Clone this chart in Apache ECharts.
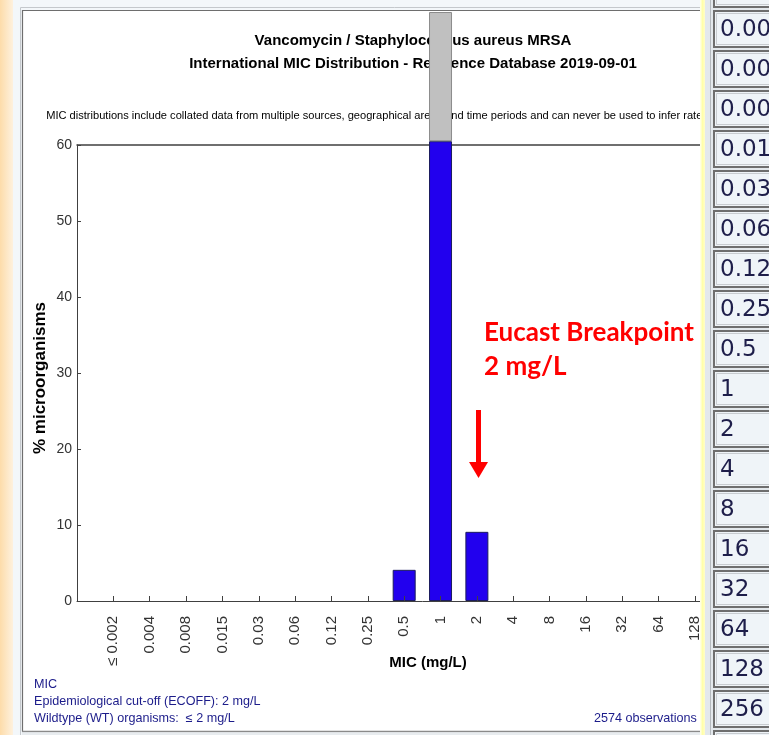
<!DOCTYPE html>
<html><head><meta charset="utf-8">
<script src="https://cdn.jsdelivr.net/npm/echarts@6/dist/echarts.min.js"></script>
<style>html,body{margin:0;padding:0;background:#f3f7fa;overflow:hidden}#c{width:769px;height:735px;}</style>
</head><body><div id="c"></div>
<script>
// ---- data ----
const categories = ["", "≤ 0.002", "0.004", "0.008", "0.015", "0.03", "0.06", "0.12", "0.25", "0.5", "1", "2", "4", "8", "16", "32", "64", "128", "256", "512"];
// % of organisms drawn on scale (blue) and the off-scale part (grey) of each MIC
const percentOnScale  = [0, 0, 0, 0, 0, 0, 0, 0, 0, 4.1, 60.5, 9.1, 0, 0, 0, 0, 0, 0, 0, 0];
const percentOffScale = [0, 0, 0, 0, 0, 0, 0, 0, 0, 0, 17.0, 0, 0, 0, 0, 0, 0, 0, 0, 0];
const tableLabels = ["0.002", "0.004", "0.008", "0.015", "0.03", "0.06", "0.125", "0.25", "0.5", "1", "2", "4", "8", "16", "32", "64", "128", "256"];
const titleLines = ["Vancomycin / Staphylococcus aureus MRSA", "International MIC Distribution - Reference Database 2019-09-01"];
const noteText = "MIC distributions include collated data from multiple sources, geographical areas and time periods and can never be used to infer rates of resistance";
const footerLines = ["MIC", "Epidemiological cut-off (ECOFF): 2 mg/L", "Wildtype (WT) organisms:  ≤ 2 mg/L"];
const observationsText = "2574 observations (";
const annotationLines = ["Eucast Breakpoint", "2 mg/L"];

const F = '"Liberation Sans", Arial, sans-serif';
const chart = echarts.init(document.getElementById('c'), null, {renderer: 'canvas'});
const nz = a => a.map(v => v === 0 ? '-' : v);

const g = [];
// page background / frame
g.push({type:'rect', z:0, shape:{x:0,y:0,width:13,height:735}, style:{fill:new echarts.graphic.LinearGradient(0,0,1,0,[{offset:0,color:'#fddcaa'},{offset:1,color:'#fef1de'}])}});
g.push({type:'rect', z:0, shape:{x:23,y:11,width:690,height:720}, style:{fill:'#ffffff'}});
g.push({type:'polyline', z:0, shape:{points:[[20.5,735],[20.5,7.5],[769,7.5]]}, style:{stroke:'#c4c8cc',lineWidth:1,fill:null}});
g.push({type:'polyline', z:0, shape:{points:[[22.5,731.5],[22.5,10.5],[769,10.5]]}, style:{stroke:'#6e6e6e',lineWidth:1.2,fill:null}});
g.push({type:'line', z:0, shape:{x1:22,y1:731.5,x2:769,y2:731.5}, style:{stroke:'#8a8a8a',lineWidth:1.5}});
g.push({type:'rect', z:0, shape:{x:22,y:732.5,width:747,height:3}, style:{fill:'#e8ecef'}});

// titles
g.push({type:'text', z:1, x:413, y:41, style:{text:titleLines[0], font:'bold 15px '+F, fill:'#000', align:'center', verticalAlign:'middle'}});
g.push({type:'text', z:1, x:413, y:64, style:{text:titleLines[1], font:'bold 15px '+F, fill:'#000', align:'center', verticalAlign:'middle'}});
g.push({type:'text', z:1, x:410, y:116, style:{text:noteText, font:'11.1px '+F, fill:'#000', align:'center', verticalAlign:'middle'}});
// axis names
g.push({type:'text', z:1, x:40, y:378, rotation:Math.PI/2, style:{text:'% microorganisms', font:'bold 17px '+F, fill:'#000', align:'center', verticalAlign:'middle'}});
g.push({type:'text', z:1, x:428, y:663, style:{text:'MIC (mg/L)', font:'bold 15px '+F, fill:'#000', align:'center', verticalAlign:'middle'}});
// footer
footerLines.forEach((t,i)=>g.push({type:'text', z:1, x:34, y:685+17*i, style:{text:t, font:'12.6px '+F, fill:'#1c1c8a', align:'left', verticalAlign:'middle'}}));
g.push({type:'text', z:1, x:594, y:719, style:{text:observationsText, font:'12.6px '+F, fill:'#1c1c8a', align:'left', verticalAlign:'middle'}});

// red annotation
g.push({type:'text', z:30, x:484, y:333, style:{text:annotationLines[0], font:'bold 26px Lato, "Open Sans", sans-serif', fill:'#ff0000', align:'left', verticalAlign:'middle'}});
g.push({type:'text', z:30, x:484, y:367, style:{text:annotationLines[1], font:'bold 26px Lato, "Open Sans", sans-serif', fill:'#ff0000', align:'left', verticalAlign:'middle'}});
g.push({type:'rect', z:30, shape:{x:476,y:410,width:5,height:53}, style:{fill:'#ff0000'}});
g.push({type:'polygon', z:30, shape:{points:[[469,462],[488,462],[478.5,478]]}, style:{fill:'#ff0000'}});

// right panel (table)
g.push({type:'rect', z:40, shape:{x:700,y:0,width:5,height:735}, style:{fill:new echarts.graphic.LinearGradient(0,0,1,0,[{offset:0,color:'#fffff0'},{offset:0.5,color:'#ffffa8'},{offset:1,color:'#fffccc'}])}});
g.push({type:'rect', z:40, shape:{x:705,y:0,width:64,height:735}, style:{fill:'#e3e8ec'}});
g.push({type:'line', z:40, shape:{x1:710.5,y1:0,x2:710.5,y2:735}, style:{stroke:'#b4b9be',lineWidth:1}});
for (let i=-1;i<=18;i++){
  const y0 = 11+40*i;
  g.push({type:'rect', z:41, shape:{x:714,y:y0,width:70,height:36}, style:{fill:'#eff4f8', stroke:'#6e6e6e', lineWidth:2}});
  g.push({type:'rect', z:41, shape:{x:716.5,y:y0+2.5,width:70,height:31}, style:{fill:null, stroke:'#c8ccd0', lineWidth:1}});
  if (i>=0 && i<tableLabels.length){
    g.push({type:'text', z:42, x:720, y:y0+19, style:{text:tableLabels[i], font:'23px "DejaVu Sans", Verdana, sans-serif', fill:'#1e1e4a', align:'left', verticalAlign:'middle'}});
  }
}

const option = {
  animation:false,
  backgroundColor:'transparent',
  grid:{left:77, top:145, width:690.7, height:456, containLabel:false, outerBoundsMode:'none'},
  xAxis:[{
    type:'category', data:categories, boundaryGap:false, z:12,
    axisLine:{lineStyle:{color:'#404040', width:1}},
    axisTick:{inside:true, length:5, lineStyle:{color:'#404040'}},
    axisLabel:{rotate:90, margin:15, fontSize:15, fontFamily:F, color:'#333', interval:0, hideOverlap:false},
    splitLine:{show:false}
  },{
    type:'category', data:categories, boundaryGap:false, position:'top', z:0,
    axisLine:{lineStyle:{color:'#404040', width:1.5}}, axisTick:{show:false}, axisLabel:{show:false}
  }],
  yAxis:{
    type:'value', min:0, max:60, interval:10,
    axisLine:{show:true, lineStyle:{color:'#404040'}},
    axisTick:{show:true, inside:true, length:4, lineStyle:{color:'#404040'}},
    axisLabel:{fontSize:14, fontFamily:F, color:'#333', margin:5},
    splitLine:{show:false}
  },
  series:[{
    type:'bar', stack:'mic', data:nz(percentOnScale), barWidth:23, clip:false, z:10,
    itemStyle:{color:'#2200ee', borderColor:'#1c1c5e', borderWidth:1}
  },{
    type:'bar', stack:'mic', data:nz(percentOffScale), barWidth:23, clip:false, z:10,
    itemStyle:{color:'#c0c0c0', borderColor:'#8c8c8c', borderWidth:1}
  }],
  graphic:{elements:g}
};
chart.setOption(option);
</script></body></html>
